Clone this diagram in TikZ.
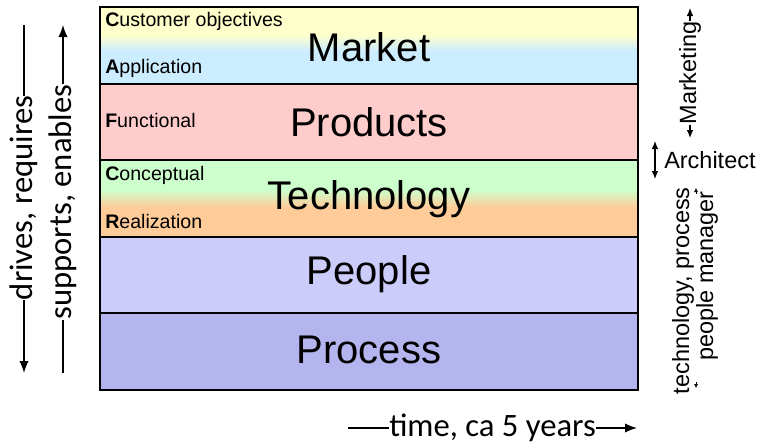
\documentclass[tikz,border=0pt]{standalone}
\usepackage{fontspec}
\setmainfont{Liberation Sans}
\newfontfamily\calfont{Carlito}
\usetikzlibrary{arrows.meta}
\definecolor{mkyellow}{RGB}{255,255,204}
\definecolor{mkblue}{RGB}{204,236,255}
\definecolor{prodred}{RGB}{255,204,204}
\definecolor{techgreen}{RGB}{204,255,204}
\definecolor{techorange}{RGB}{255,204,153}
\definecolor{peopleblue}{RGB}{204,204,250}
\definecolor{processblue}{RGB}{180,180,238}
\begin{document}
\begin{tikzpicture}[x=0.75pt,y=-0.75pt,
  bigtext/.style={inner sep=0pt,font=\fontsize{30}{32}\selectfont},
  smalltext/.style={inner sep=0pt,anchor=west,font=\fontsize{14.7}{16}\selectfont},
  sidetext/.style={inner sep=0pt,font=\fontsize{17.6}{19}\selectfont},
  caltext/.style={inner sep=0pt,font=\calfont\fontsize{24.5}{26}\selectfont},
  divider/.style={line width=1.6pt},
  outer/.style={line width=1.9pt},
  bigarrow/.style={line width=1.1pt,-{Latex[length=9pt,width=7pt]}},
  sidearrow/.style={line width=0.9pt,-{Latex[length=6pt,width=5pt]}},
  tinyarrow/.style={line width=0.4pt,-{Latex[length=3pt,width=3pt]}}]
\useasboundingbox (0,0) rectangle (760,447);
% layers
\fill[mkyellow] (100,7) rectangle (638,35);
\shade[top color=mkyellow,bottom color=mkblue] (100,35) rectangle (638,51);
\fill[mkblue] (100,51) rectangle (638,84);
\fill[prodred] (100,84) rectangle (638,160);
\fill[techgreen] (100,160) rectangle (638,190);
\shade[top color=techgreen,bottom color=techorange] (100,190) rectangle (638,207);
\fill[techorange] (100,207) rectangle (638,237);
\fill[peopleblue] (100,237) rectangle (638,313);
\fill[processblue] (100,313) rectangle (638,390);
\draw[divider] (100,84) -- (638,84);
\draw[divider] (100,160) -- (638,160);
\draw[divider] (100,237) -- (638,237);
\draw[divider] (100,313) -- (638,313);
\draw[outer] (100,7) rectangle (638,390);
% layer names
\node[bigtext] (market) at (369,47) {Market};
\node[bigtext] (products) at (369,122) {Products};
\node[bigtext] (technology) at (369,199) {Technology};
\node[bigtext] (people) at (369,274) {People};
\node[bigtext] (process) at (369,350) {Process};
% CAFCR labels
\node[smalltext] (cust) at (105,21) {\textbf{C}ustomer objectives};
\node[smalltext] (appl) at (105,68) {\textbf{A}pplication};
\node[smalltext] (func) at (105,120) {\textbf{F}unctional};
\node[smalltext] (conc) at (105,175) {\textbf{C}onceptual};
\node[smalltext] (real) at (105,221) {\textbf{R}ealization};
% left arrows
\node[caltext,rotate=90] (drives) at (24,198) {drives, requires};
\coordinate (drivestop) at (24,25);
\coordinate (drivesbot) at (24,373);
\draw[line width=1.1pt] (drivestop) -- (drives.east);
\draw[bigarrow] (drives.west) -- (drivesbot);
\node[caltext,rotate=90] (supports) at (63,202) {supports, enables};
\coordinate (supptop) at (63,25);
\coordinate (suppbot) at (63,373);
\draw[bigarrow] (supports.east) -- (supptop);
\draw[line width=1.1pt] (supports.west) -- (suppbot);
% time arrow
\node[caltext,anchor=west] (time) at (389,428) {time, ca 5 years};
\coordinate (timestart) at (348,428);
\coordinate (timeend) at (637,428);
\draw[line width=1.1pt] (timestart) -- (time.west);
\draw[bigarrow] (time.east) -- (timeend);
% right side
\node[sidetext,rotate=90] (marketing) at (690,73) {Marketing};
\coordinate (mktop) at (690,8);
\coordinate (mkbot) at (690,138);
\draw[sidearrow] (marketing.east) -- (mktop);
\draw[sidearrow] (marketing.west) -- (mkbot);
\node[sidetext,anchor=west] (architect) at (664,160) {Architect};
\coordinate (archtop) at (655,141);
\coordinate (archbot) at (655,179);
\draw[sidearrow,{Latex[length=6pt,width=5pt]}-{Latex[length=6pt,width=5pt]}] (archtop) -- (archbot);
\node[sidetext,rotate=90,anchor=east] (techproc) at (683,187) {technology, process};
\node[sidetext,rotate=90,anchor=east] (peoplemgr) at (707,191) {people manager};
\coordinate (tinytopa) at (696,194);
\coordinate (tinytopb) at (696,188);
\coordinate (tinybota) at (696,382);
\coordinate (tinybotb) at (696,388);
\draw[tinyarrow] (tinytopa) -- (tinytopb);
\draw[tinyarrow] (tinybota) -- (tinybotb);
\end{tikzpicture}
\end{document}
